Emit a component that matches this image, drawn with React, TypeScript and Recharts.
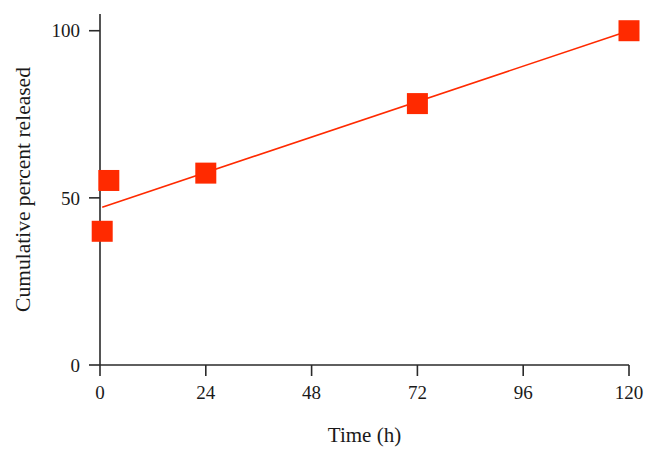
import React from "react";
import {
  ComposedChart,
  Scatter,
  Line,
  XAxis,
  YAxis,
  Label,
} from "recharts";

// measured release points (time in hours, cumulative %)
const timeHours = [0.5, 2, 24, 72, 120];
const percentReleased = [40, 55.2, 57.4, 78.2, 100];

// linear fit drawn through the points
const fitTime = [0.5, 120];
const fitPercent = [47.2, 100];

const xTicks = [0, 24, 48, 72, 96, 120];
const yTicks = [0, 50, 100];

const RED = "#ff2a00";
const AXIS = "#2a2a2a";
const FONT = "'Liberation Serif', 'DejaVu Serif', serif";

const points = timeHours.map((x, i) => ({ x, y: percentReleased[i] }));
const fit = fitTime.map((x, i) => ({ x, y: fitPercent[i] }));

// square marker for the scatter series
const SquareDot = (props: any) => {
  const { cx, cy } = props;
  const s = 21;
  return <rect x={cx - s / 2} y={cy - s / 2} width={s} height={s} fill={RED} />;
};

const App: React.FC = () => {
  return (
    <div style={{ position: "absolute", left: 0, top: 0, background: "#fff" }}>
      <ComposedChart
        width={656}
        height={455}
        margin={{ top: 14, right: 27, bottom: 30, left: 0 }}
      >
        <XAxis
          dataKey="x"
          type="number"
          domain={[0, 120]}
          ticks={xTicks}
          tickSize={11}
          tickMargin={10}
          height={60}
          stroke={AXIS}
          strokeWidth={1.6}
          tick={{ fill: "#1a1a1a", fontSize: 19, fontFamily: FONT }}
        >
          <Label
            value="Time (h)"
            position="bottom"
            offset={2}
            style={{ fill: "#1a1a1a", fontSize: 21, fontFamily: FONT }}
          />
        </XAxis>
        <YAxis
          dataKey="y"
          type="number"
          domain={[0, 105]}
          ticks={yTicks}
          tickSize={11}
          tickMargin={9}
          width={100}
          stroke={AXIS}
          strokeWidth={1.6}
          tick={{ fill: "#1a1a1a", fontSize: 19, fontFamily: FONT }}
        >
          <Label
            value="Cumulative percent released"
            angle={-90}
            position="insideLeft"
            offset={22}
            style={{
              fill: "#1a1a1a",
              fontSize: 21.5,
              fontFamily: FONT,
              textAnchor: "middle",
            }}
          />
        </YAxis>
        <Line
          data={fit}
          dataKey="y"
          type="linear"
          stroke={RED}
          strokeWidth={1.6}
          dot={false}
          activeDot={false}
          isAnimationActive={false}
        />
        <Scatter
          data={points}
          dataKey="y"
          shape={<SquareDot />}
          isAnimationActive={false}
        />
      </ComposedChart>
    </div>
  );
};

export default App;
